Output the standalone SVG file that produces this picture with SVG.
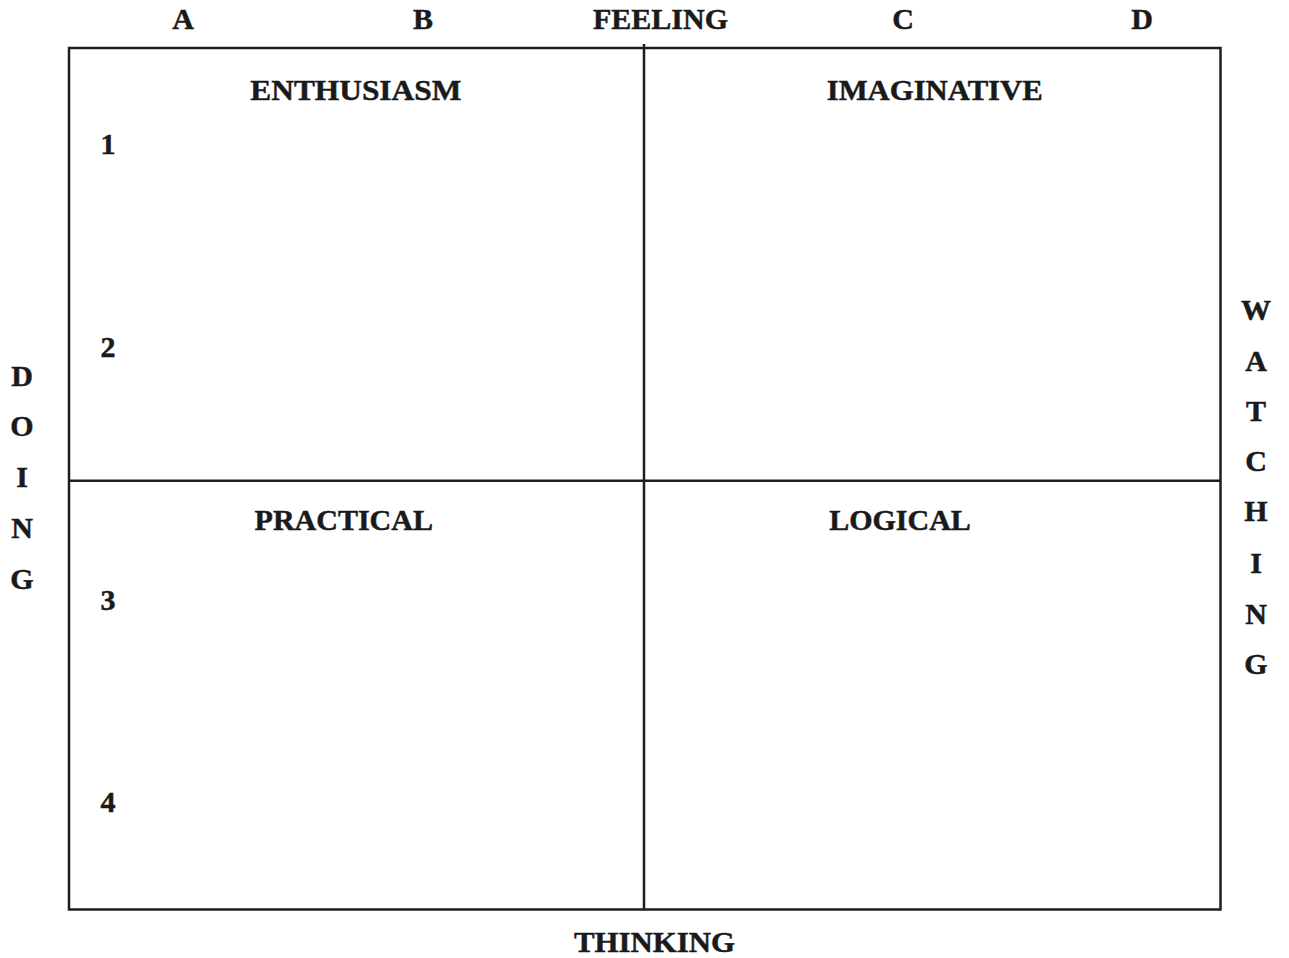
<svg xmlns="http://www.w3.org/2000/svg" width="1289" height="958" viewBox="0 0 1289 958">
  <style>
    .t { font-family: "Liberation Serif", "Times New Roman", serif; font-weight: bold; font-size: 30px; fill: #1a1a1a; stroke: #1a1a1a; stroke-width: 0.5; text-anchor: middle; }
    .ln { stroke: #1e1e1e; stroke-width: 2.5; fill: none; }
  </style>
  <rect width="1289" height="958" fill="#ffffff"/>

  <!-- grid frame and quadrant dividers -->
  <g id="connectors">
    <rect class="ln" x="69" y="48" width="1151.5" height="861.5"/>
    <line class="ln" x1="644" y1="44" x2="644" y2="909.5"/>
    <line class="ln" x1="69" y1="480.7" x2="1220.5" y2="480.7"/>
  </g>

  <!-- column headings -->
  <g id="columns">
    <text class="t" x="183" y="29">A</text>
    <text class="t" x="423" y="29">B</text>
    <text class="t" x="660.5" y="29">FEELING</text>
    <text class="t" x="903" y="29">C</text>
    <text class="t" x="1142" y="29">D</text>
  </g>

  <g id="q-enthusiasm"><text class="t" x="355.8" y="99.5" textLength="211" lengthAdjust="spacingAndGlyphs">ENTHUSIASM</text></g>
  <g id="q-imaginative"><text class="t" x="934.7" y="99.5" textLength="216" lengthAdjust="spacingAndGlyphs">IMAGINATIVE</text></g>
  <g id="q-practical"><text class="t" x="343.8" y="529.5">PRACTICAL</text></g>
  <g id="q-logical"><text class="t" x="900" y="529.5">LOGICAL</text></g>

  <!-- row numbers -->
  <g id="rows">
    <text class="t" x="108" y="154">1</text>
    <text class="t" x="108" y="357">2</text>
    <text class="t" x="108" y="610">3</text>
    <text class="t" x="108" y="812">4</text>
  </g>

  <!-- side axis labels -->
  <g id="axis-doing">
    <text class="t" x="22" y="386">D</text>
    <text class="t" x="22" y="436">O</text>
    <text class="t" x="22" y="487">I</text>
    <text class="t" x="22" y="538">N</text>
    <text class="t" x="22" y="589">G</text>
  </g>
  <g id="axis-watching">
    <text class="t" x="1256" y="320">W</text>
    <text class="t" x="1256" y="371">A</text>
    <text class="t" x="1256" y="421">T</text>
    <text class="t" x="1256" y="471">C</text>
    <text class="t" x="1256" y="521">H</text>
    <text class="t" x="1256" y="573">I</text>
    <text class="t" x="1256" y="624">N</text>
    <text class="t" x="1256" y="674">G</text>
  </g>
  <g id="axis-thinking">
    <text class="t" x="654.5" y="952" textLength="161" lengthAdjust="spacingAndGlyphs">THINKING</text>
  </g>
</svg>
